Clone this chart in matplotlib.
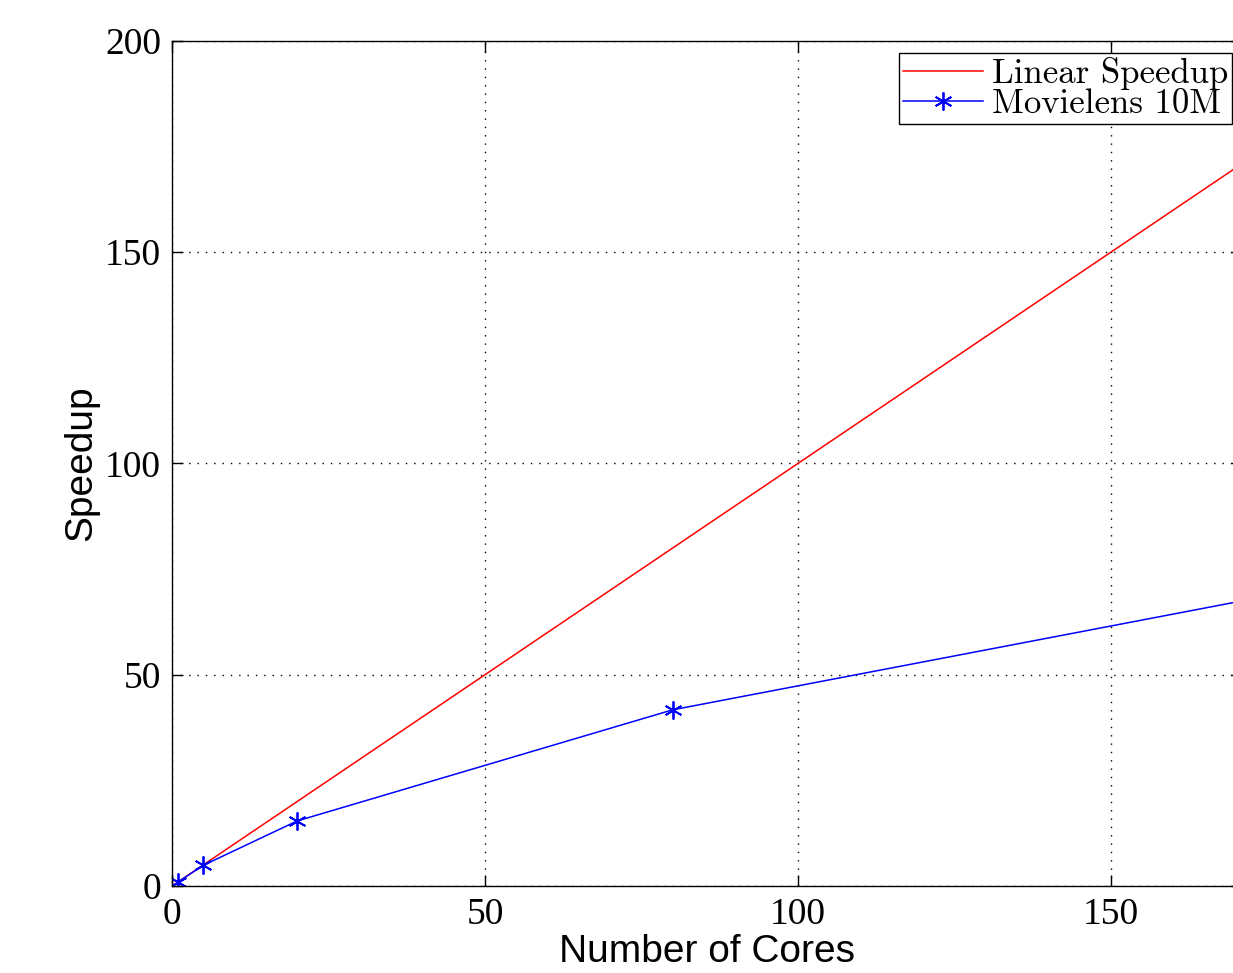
import matplotlib
matplotlib.use("Agg")
from matplotlib import pyplot as plt

# Data
linear_cores = [0, 200]
linear_speedup = [0, 200]
ml_cores = [1, 5, 20, 80, 200]
ml_speedup = [1.0, 4.9, 15.4, 41.7, 75.7]

fig = plt.figure(figsize=(12.33, 9.73), dpi=100)
# axes run slightly past the right edge of the figure, as in the reference
ax = fig.add_axes([0.1395, 0.0894, 0.868, 0.8685])

ax.plot(linear_cores, linear_speedup, color='red', linewidth=1.1, label="Linear Speedup")
ax.plot(ml_cores, ml_speedup, color='blue', linewidth=1.1, marker=(6, 2, 0), markersize=13,
        markeredgewidth=1.3, label="Movielens 10M")

ax.set_xlim(0, 171)
ax.set_ylim(0, 200)
ax.set_xticks([0, 50, 100, 150])
ax.set_yticks([0, 50, 100, 150, 200])

ax.tick_params(direction='in', top=True, right=True, length=8, width=1.0, pad=8,
               labelsize=27)
for lbl in ax.get_xticklabels() + ax.get_yticklabels():
    lbl.set_fontfamily('Liberation Serif')
for s in ax.spines.values():
    s.set_linewidth(1.0)

ax.grid(True, linestyle=(0, (1, 5)), color='black', linewidth=1.0)

ax.set_xlabel("Number of Cores", fontsize=28, fontfamily='Liberation Sans', labelpad=2)
ax.set_ylabel("Speedup", fontsize=28, fontfamily='Liberation Sans', labelpad=4)

leg = ax.legend(loc="upper right", prop={'family': 'cmr10', 'size': 25}, frameon=True,
                fancybox=False, edgecolor='black', framealpha=1, handlelength=2.3,
                borderpad=0.12, labelspacing=-0.05, handletextpad=0.25,
                bbox_to_anchor=(1232 / 1233, (973 - 53) / 973),
                bbox_transform=fig.transFigure, borderaxespad=0)
leg.get_frame().set_linewidth(1.0)

plt.savefig("out.png", dpi=100)
